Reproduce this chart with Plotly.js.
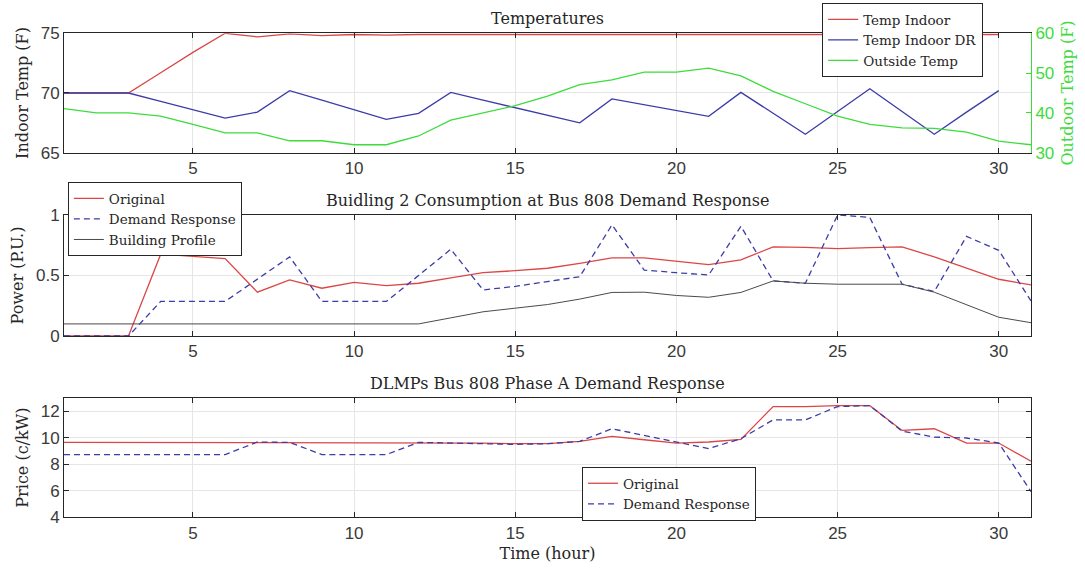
<!DOCTYPE html>
<html>
<head>
<meta charset="utf-8">
<script src="https://cdn.plot.ly/plotly-3.0.1.min.js"></script>
<style>html,body{margin:0;padding:0;background:#fff;}#chart{width:1085px;height:573px;}</style>
</head>
<body>
<div id="chart"></div>
<script>
// ---- data ----
const hours = [1,2,3,4,5,6,7,8,9,10,11,12,13,14,15,16,17,18,19,20,21,22,23,24,25,26,27,28,29,30,31];
const hoursTo30 = hours.slice(0, 30);

const tempIndoor   = [70,70,70,71.7,73.4,75,74.7,74.95,74.8,74.9,74.85,74.9,74.9,74.9,74.9,74.9,74.9,74.9,74.9,74.9,74.9,74.9,74.9,74.9,74.9,74.9,74.9,74.9,74.9,74.9];
const tempIndoorDR = [70,70,70,69.3,68.6,67.9,68.4,70.2,69.4,68.6,67.8,68.3,70.05,69.4,68.75,68.1,67.5,69.5,69.0,68.55,68.05,70.05,68.3,66.55,68.45,70.36,68.45,66.55,68.4,70.2];
const outsideTemp  = [41.1,40,40,39.2,37.1,35,35,33,33,32,32,34.2,38.2,40,41.8,44.2,47.1,48.3,50.25,50.25,51.25,49.3,45.4,42.3,39.2,37.1,36.25,36.1,35.2,32.9,32];

const powerOriginal = [0,0,0,0.676,0.66,0.64,0.362,0.463,0.395,0.444,0.417,0.436,0.48,0.523,0.54,0.56,0.6,0.646,0.646,0.62,0.59,0.63,0.736,0.733,0.722,0.73,0.736,0.654,0.56,0.469,0.422];
const powerDR       = [0,0,0,0.286,0.286,0.286,0.47,0.654,0.286,0.286,0.286,0.5,0.717,0.381,0.41,0.45,0.49,0.918,0.545,0.523,0.504,0.907,0.455,0.436,1.0,0.98,0.428,0.368,0.823,0.708,0.29];
const powerProfile  = [0.1,0.1,0.1,0.1,0.1,0.1,0.1,0.1,0.1,0.1,0.1,0.1,0.15,0.2,0.23,0.26,0.305,0.36,0.362,0.335,0.32,0.36,0.455,0.436,0.428,0.428,0.428,0.362,0.26,0.155,0.11];

const priceOriginal = [9.65,9.65,9.65,9.65,9.65,9.65,9.65,9.65,9.65,9.65,9.65,9.65,9.65,9.6,9.55,9.55,9.73,10.1,9.85,9.6,9.68,9.88,12.35,12.35,12.42,12.42,10.55,10.68,9.6,9.6,8.23];
const priceDR       = [8.73,8.73,8.73,8.73,8.73,8.73,9.68,9.65,8.73,8.73,8.73,9.65,9.6,9.55,9.5,9.55,9.73,10.68,10.18,9.68,9.18,9.93,11.35,11.35,12.35,12.42,10.5,10.05,9.98,9.6,5.94];

const xTicks = [5,10,15,20,25,30];

// ---- styles ----
const RED = '#dc4646', BLUE = '#3c3ca8', GREEN = '#3ddc3d', BLACK = '#4a4a4a';
const SERIF = 'DejaVu Serif, serif';
const SANS = 'Liberation Sans, Arial, sans-serif';
const AX = '#262626';
const TICK = '#3a3a3a';

const traces = [
  {x: hoursTo30, y: tempIndoor, name: 'Temp Indoor', mode: 'lines', line: {color: RED, width: 1.3}, xaxis: 'x', yaxis: 'y', legend: 'legend'},
  {x: hoursTo30, y: tempIndoorDR, name: 'Temp Indoor DR', mode: 'lines', line: {color: BLUE, width: 1.3}, xaxis: 'x', yaxis: 'y', legend: 'legend'},
  {x: hours, y: outsideTemp, name: 'Outside Temp', mode: 'lines', line: {color: GREEN, width: 1.3}, xaxis: 'x', yaxis: 'y4', legend: 'legend'},

  {x: hours, y: powerOriginal, name: 'Original', mode: 'lines', line: {color: RED, width: 1.3}, xaxis: 'x2', yaxis: 'y2', legend: 'legend2'},
  {x: hours, y: powerDR, name: 'Demand Response', mode: 'lines', line: {color: BLUE, width: 1.3, dash: '6px,4px'}, xaxis: 'x2', yaxis: 'y2', legend: 'legend2'},
  {x: hours, y: powerProfile, name: 'Building Profile', mode: 'lines', line: {color: BLACK, width: 1}, xaxis: 'x2', yaxis: 'y2', legend: 'legend2'},

  {x: hours, y: priceOriginal, name: 'Original', mode: 'lines', line: {color: RED, width: 1.3}, xaxis: 'x3', yaxis: 'y3', legend: 'legend3'},
  {x: hours, y: priceDR, name: 'Demand Response', mode: 'lines', line: {color: BLUE, width: 1.3, dash: '6px,4px'}, xaxis: 'x3', yaxis: 'y3', legend: 'legend3'}
];

function xax(anchor, extra) {
  return Object.assign({
    anchor: anchor, domain: [0, 1], range: [1, 31], tickvals: xTicks,
    showgrid: true, gridcolor: '#e6e6e6', zeroline: false,
    showline: true, linecolor: AX, linewidth: 1, mirror: 'ticks',
    ticks: 'inside', ticklen: 5, tickcolor: AX,
    tickfont: {family: SANS, size: 17, color: TICK}
  }, extra || {});
}
function yax(anchor, domain, range, tickvals, title, extra) {
  return Object.assign({
    anchor: anchor, domain: domain, range: range, tickvals: tickvals,
    showgrid: true, gridcolor: '#e6e6e6', zeroline: false,
    showline: true, linecolor: AX, linewidth: 1, mirror: 'ticks',
    ticks: 'inside', ticklen: 5, tickcolor: AX,
    tickfont: {family: SANS, size: 17, color: TICK},
    title: {text: title, font: {family: SERIF, size: 16, color: AX}, standoff: 8}
  }, extra || {});
}

const legendBase = {
  bgcolor: 'rgba(255,255,255,1)', bordercolor: AX, borderwidth: 1,
  font: {family: SERIF, size: 13.5, color: AX}, xanchor: 'left', yanchor: 'top',
  tracegroupgap: 0, itemwidth: 30
};

const layout = {
  width: 1085, height: 573,
  margin: {l: 64, r: 54, t: 20, b: 40, autoexpand: false},
  paper_bgcolor: '#fff', plot_bgcolor: '#fff',
  showlegend: true,
  xaxis: xax('y'),
  xaxis2: xax('y2'),
  xaxis3: xax('y3', {title: {text: 'Time (hour)', font: {family: SERIF, size: 16, color: AX}, standoff: 6}}),
  yaxis: yax('x', [0.7413, 0.9741], [65, 75], [65, 70, 75], 'Indoor Temp (F)', {mirror: false}),
  yaxis4: {
    anchor: 'x', overlaying: 'y', side: 'right', range: [30, 60], tickvals: [30, 40, 50, 60],
    showgrid: false, zeroline: false, showline: true, linecolor: GREEN, linewidth: 1,
    ticks: 'inside', ticklen: 5, tickcolor: GREEN,
    tickfont: {family: SANS, size: 17, color: GREEN},
    title: {text: 'Outdoor Temp (F)', font: {family: SERIF, size: 16, color: GREEN}, standoff: 8}
  },
  yaxis2: yax('x2', [0.3840, 0.6199], [0, 1], [0, 0.5, 1], 'Power (P.U.)'),
  yaxis3: yax('x3', [0.0306, 0.2632], [4, 13], [4, 6, 8, 10, 12], 'Price (c/kW)'),
  legend: Object.assign({}, legendBase, {x: 0.784, y: 1.033}),
  legend2: Object.assign({}, legendBase, {x: 0.004, y: 0.684}),
  legend3: Object.assign({}, legendBase, {x: 0.5357, y: 0.1287}),
  annotations: [
    {text: 'Temperatures', x: 0.5, y: 0.9741, xref: 'paper', yref: 'paper', xanchor: 'center', yanchor: 'bottom', yshift: 3, showarrow: false, font: {family: SERIF, size: 16, color: AX}},
    {text: 'Buidling 2 Consumption at Bus 808 Demand Response', x: 0.5, y: 0.6199, xref: 'paper', yref: 'paper', xanchor: 'center', yanchor: 'bottom', yshift: 3, showarrow: false, font: {family: SERIF, size: 16, color: AX}},
    {text: 'DLMPs Bus 808 Phase A Demand Response', x: 0.5, y: 0.2632, xref: 'paper', yref: 'paper', xanchor: 'center', yanchor: 'bottom', yshift: 3, showarrow: false, font: {family: SERIF, size: 16, color: AX}}
  ]
};

Plotly.newPlot('chart', traces, layout, {displayModeBar: false, staticPlot: true});
</script>
</body>
</html>
